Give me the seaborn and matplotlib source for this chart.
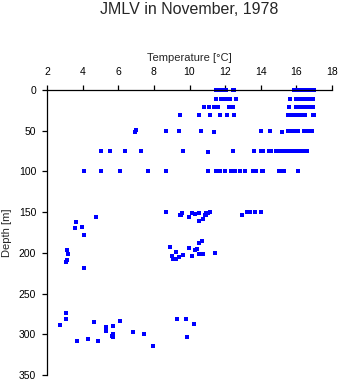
import numpy as np
import pandas as pd
import matplotlib
matplotlib.use("Agg")
import matplotlib.pyplot as plt
import seaborn as sns

# ---- data ----
temp_0 = [11.47, 11.70, 11.95, 12.05, 12.44, 12.52,
          15.84, 15.94, 16.04, 16.14, 16.24, 16.34, 16.44, 16.54, 16.64, 16.74, 16.85, 16.97]
depth_0 = [0] * len(temp_0)

temp_11 = [11.47, 11.79, 12.0, 12.13, 12.26, 12.6,
           15.67, 15.99, 16.09, 16.19, 16.29, 16.39, 16.49, 16.59, 16.69, 16.79, 16.91]
depth_11 = [11.5] * len(temp_11)

temp_21 = [10.82, 11.1, 11.38, 11.62, 12.22, 12.44,
           15.57, 15.99, 16.09, 16.19, 16.29, 16.39, 16.49, 16.59, 16.69, 16.79, 16.91]
depth_21 = [21.3] * len(temp_21)

temp_31 = [9.47, 10.53, 11.17, 11.74, 12.1, 12.5,
           15.52, 15.62, 15.72, 15.82, 15.92, 16.02, 16.12, 16.22, 16.32, 16.48, 16.93, 16.97]
depth_31 = [31.2] * len(temp_31)

temp_50 = [6.93, 7.02, 8.66, 9.41, 10.67, 11.38, 14.04, 14.54, 15.22,
           15.52, 15.62, 15.72, 15.82, 15.92, 16.02, 16.11, 16.40, 16.50, 16.60, 16.70, 16.86]
depth_50 = [51, 49.5, 50, 50, 50, 51, 50, 50, 51,
            50, 50, 50, 50, 50, 50, 50, 50, 50, 50, 50, 50]

temp_75 = [5.05, 5.54, 6.38, 7.28, 9.64, 11.02, 12.44, 13.61, 14.03, 14.11,
           14.46, 14.58, 14.83, 14.93, 15.03, 15.13, 15.23, 15.33, 15.43, 15.53,
           15.63, 15.73, 15.99, 16.10, 16.20, 16.45, 16.57]
depth_75 = [75, 75, 75, 75, 75, 76.5, 75, 75, 75, 75,
            75, 75, 75, 75, 75, 75, 75, 75, 75, 75,
            75, 75, 75, 75, 75, 75, 75]

temp_100 = [4.06, 5.03, 6.1, 7.67, 8.66, 11.04, 11.47, 11.73, 11.97, 12.35, 12.45,
            12.55, 12.85, 13.1, 13.55, 13.72, 14.05, 14.13, 15.0, 15.15, 15.3, 16.09]
depth_100 = [100, 100, 100, 100, 100, 100, 100, 100, 100, 100, 100,
             100, 100, 99.3, 100, 100, 99.3, 100, 100, 100, 100, 99.3]

temp_150 = [8.70, 9.45, 9.60, 9.55, 9.97, 10.16, 10.29, 10.52, 10.52, 10.76, 10.85,
            10.95, 10.90, 11.04, 11.17, 12.95, 13.23, 13.35, 13.42, 13.66, 14.04]
depth_150 = [149.5, 153.5, 151, 153.5, 156, 151, 152, 151, 160.5, 158.5, 154,
             153, 150.5, 151, 150, 153.5, 150, 150, 150, 150, 150]

temp_200 = [4.77, 3.65, 3.59, 3.97, 4.08, 3.12, 3.18, 3.09, 3.12, 4.08,
            8.89, 9.02, 9.08, 9.23, 9.26, 9.39, 9.63, 9.96, 10.16, 10.29,
            10.44, 10.53, 10.72, 10.52, 10.74, 11.43]
depth_200 = [156, 162, 170, 168.3, 178, 196, 201.5, 211, 209, 218.5,
             193, 204.3, 207.6, 207.6, 199.4, 205, 202.6, 194, 203.9, 197,
             195.3, 188, 185, 201, 201, 200.2]

temp_300 = [2.71, 3.05, 3.09, 3.69, 4.32, 4.62, 4.89, 5.30, 5.30, 5.30,
            5.65, 5.71, 5.71, 5.71, 6.08, 6.83, 7.45, 7.95, 9.32, 9.83, 9.86, 10.25]
depth_300 = [288.6, 281.3, 273.9, 307.9, 305.8, 284.6, 307.9, 291, 294, 296,
             302.5, 303.5, 289.8, 299.3, 283.7, 297.7, 299.3, 314.9, 280.9, 280.9, 303.8, 287.8]

x_ticks = [2, 4, 6, 8, 10, 12, 14, 16, 18]
y_ticks = [0, 50, 100, 150, 200, 250, 300, 350]

df = pd.DataFrame({
    "Temperature": temp_0 + temp_11 + temp_21 + temp_31 + temp_50 + temp_75 + temp_100
                   + temp_150 + temp_200 + temp_300,
    "Depth": depth_0 + depth_11 + depth_21 + depth_31 + depth_50 + depth_75 + depth_100
             + depth_150 + depth_200 + depth_300,
})

sns.set_style("ticks")
plt.rcParams["font.family"] = ["Liberation Sans", "DejaVu Sans"]

W, H = 341, 384
fig = plt.figure(figsize=(W / 100, H / 100), dpi=100)
ax = fig.add_axes([47 / W, 1 - 375 / H, 285 / W, 285 / H])

sns.scatterplot(data=df, x="Temperature", y="Depth", ax=ax, marker="s", s=5,
                color="#0000ff", linewidth=0, clip_on=False)

ax.set_xlim(2, 18)
ax.set_ylim(350, 0)
ax.set_xticks(x_ticks)
ax.set_yticks(y_ticks)
ax.xaxis.tick_top()
ax.xaxis.set_label_position("top")

for s in ["bottom", "right"]:
    ax.spines[s].set_visible(False)
for s in ["top", "left"]:
    ax.spines[s].set_linewidth(0.9)
    ax.spines[s].set_color("black")

ax.tick_params(axis="x", which="both", top=True, bottom=False, direction="out",
               length=3.3, width=0.9, pad=6.0, labelsize=7.5, colors="black")
ax.tick_params(axis="y", direction="out", length=3.3, width=0.9, pad=4.5,
               labelsize=7.5, colors="black")

ax.set_xlabel("Temperature [\u00b0C]", fontsize=8, labelpad=4.5)
ax.set_ylabel("Depth [m]", fontsize=8)
ax.yaxis.set_label_coords(-0.123, 0.5)

fig.text(189 / W, 1 - 9 / H, "JMLV in November, 1978", ha="center", va="center",
         fontsize=11.5)

fig.savefig("out.png", dpi=100)
